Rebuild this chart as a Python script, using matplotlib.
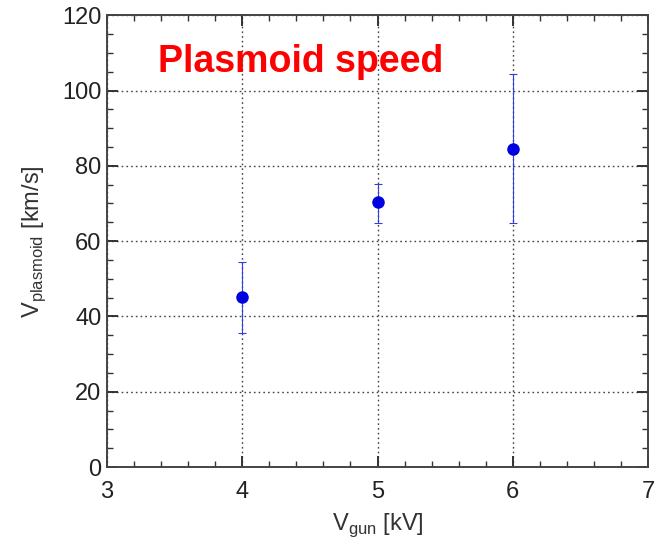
import numpy as np
import matplotlib.pyplot as plt
from matplotlib.ticker import MultipleLocator

# gun voltage [kV] and plasmoid speed [km/s] with error bounds
v_gun = [4, 5, 6]
v_plasmoid = [45.2, 70.4, 84.4]
err_low = [35.7, 64.7, 64.8]
err_high = [54.5, 75.3, 104.5]

plt.rcParams['font.family'] = ['Liberation Sans', 'DejaVu Sans']

fig = plt.figure(figsize=(6.56, 5.44), dpi=100)
ax = fig.add_axes([0.163, 0.1415, 0.825, 0.8305])

yerr = np.array([np.subtract(v_plasmoid, err_low), np.subtract(err_high, v_plasmoid)])
ax.errorbar(v_gun, v_plasmoid, yerr=yerr, fmt='o', color='#0000e0', ms=8,
            elinewidth=0.8, capsize=3, capthick=0.8, ecolor='#3040e0', zorder=3)

ax.set_xlim(3, 7)
ax.set_ylim(0, 120)
ax.xaxis.set_major_locator(MultipleLocator(1))
ax.xaxis.set_minor_locator(MultipleLocator(0.2))
ax.yaxis.set_major_locator(MultipleLocator(20))
ax.yaxis.set_minor_locator(MultipleLocator(5))
ax.tick_params(which='both', direction='in', top=True, right=True, colors='#333333',
               labelsize=17, labelcolor='#222222')
ax.tick_params(which='major', length=8, width=1.4)
ax.tick_params(which='minor', length=4, width=1.0)
ax.tick_params(axis='x', pad=10)
ax.tick_params(axis='y', pad=4)
for s in ax.spines.values():
    s.set_color('#444444')
    s.set_linewidth(1.4)

ax.grid(True, which='major', linestyle=(0, (1.2, 2.2)), color='#444444', linewidth=1.0)

ax.text(0.094, 0.896, 'Plasmoid speed', transform=ax.transAxes, color='red',
        fontsize=27, fontweight='bold', va='center', ha='left')

ax.set_xlabel(r'V$_\mathregular{gun}$ [kV]', fontsize=17, color='#333333', labelpad=6)
ax.set_ylabel(r'V$_\mathregular{plasmoid}$ [km/s]', fontsize=17, color='#333333', labelpad=10)

fig.savefig('out.png', dpi=100)
